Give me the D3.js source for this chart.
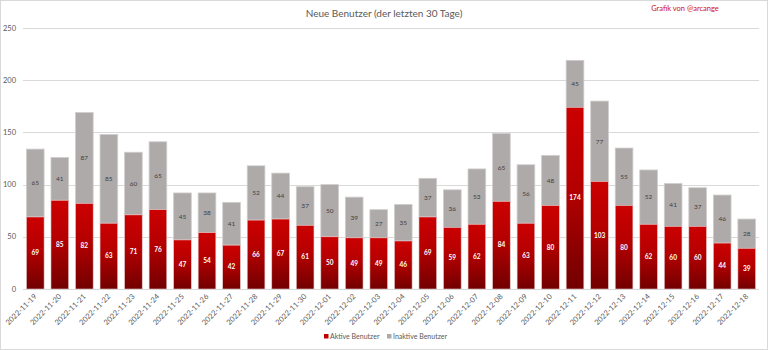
<!DOCTYPE html>
<html><head><meta charset="utf-8">
<script src="https://cdn.jsdelivr.net/npm/d3@7"></script>
<style>html,body{margin:0;padding:0;background:#fff}svg{display:block}</style>
</head><body>
<script>
const dates = ["2022-11-19","2022-11-20","2022-11-21","2022-11-22","2022-11-23","2022-11-24","2022-11-25","2022-11-26","2022-11-27","2022-11-28","2022-11-29","2022-11-30","2022-12-01","2022-12-02","2022-12-03","2022-12-04","2022-12-05","2022-12-06","2022-12-07","2022-12-08","2022-12-09","2022-12-10","2022-12-11","2022-12-12","2022-12-13","2022-12-14","2022-12-15","2022-12-16","2022-12-17","2022-12-18"];
const aktive = [69,85,82,63,71,76,47,54,42,66,67,61,50,49,49,46,69,59,62,84,63,80,174,103,80,62,60,60,44,39];
const inaktive = [65,41,87,85,60,65,45,38,41,52,44,37,50,39,27,35,37,36,53,65,56,48,45,77,55,52,41,37,46,28];
const yTicks = [0,50,100,150,200,250];
const seriesNames = ["Aktive Benutzer","Inaktive Benutzer"];
const title = "Neue Benutzer (der letzten 30 Tage)";
const credit = "Grafik von @arcange";

const W = 768, H = 350;
const font = "Lato, 'Open Sans', 'Liberation Sans', sans-serif";
const svg = d3.select("body").append("svg").attr("width", W).attr("height", H);

const defs = svg.append("defs");
const grad = defs.append("linearGradient").attr("id","redGrad").attr("x1",0).attr("y1",0).attr("x2",0).attr("y2",1);
grad.append("stop").attr("offset","0%").attr("stop-color","#cc0000");
grad.append("stop").attr("offset","45%").attr("stop-color","#b40000");
grad.append("stop").attr("offset","100%").attr("stop-color","#720000");

svg.append("rect").attr("x",0.5).attr("y",0.5).attr("width",W-1).attr("height",H-1)
  .attr("fill","#fff").attr("stroke","#d9d9d9");

const x = d3.scaleBand().domain(dates).range([23, 759]).paddingInner(0.28).paddingOuter(0.14);
const y = d3.scaleLinear().domain([0, 250]).range([289, 28]);

// grid
svg.append("g").selectAll("line").data(yTicks).join("line")
  .attr("x1", 23).attr("x2", 759)
  .attr("y1", d => Math.round(y(d)) + 0.5).attr("y2", d => Math.round(y(d)) + 0.5)
  .attr("stroke", "#d9d9d9").attr("stroke-width", 1);

// y labels
svg.append("g").selectAll("text").data(yTicks).join("text")
  .attr("x", 16).attr("y", d => y(d)).attr("dy","0.35em")
  .attr("text-anchor","end").attr("font-family",font).attr("font-size","7.5px").attr("fill","#595959")
  .text(d => d);

const data = dates.map((d,i) => ({d, a: aktive[i], n: inaktive[i]}));

// inactive bars
svg.append("g").selectAll("rect").data(data).join("rect")
  .attr("x", d => x(d.d)).attr("width", x.bandwidth())
  .attr("y", d => y(d.a + d.n)).attr("height", d => y(d.a) - y(d.a + d.n))
  .attr("fill", "#aeaaaa").attr("stroke","#d0cdcd").attr("stroke-width",0.8);

// active bars
svg.append("g").selectAll("rect").data(data).join("rect")
  .attr("x", d => x(d.d)).attr("width", x.bandwidth())
  .attr("y", d => y(d.a)).attr("height", d => y(0) - y(d.a))
  .attr("fill", "url(#redGrad)").attr("stroke","#e3c9c9").attr("stroke-width",0.6);

// labels
svg.append("g").selectAll("text").data(data).join("text")
  .attr("x", d => x(d.d) + x.bandwidth()/2).attr("y", d => (y(d.a) + y(0))/2).attr("dy","0.35em")
  .attr("text-anchor","middle").attr("font-family",font).attr("font-size","6.5px").attr("font-weight","bold").attr("fill","#fff")
  .text(d => d.a);
svg.append("g").selectAll("text").data(data).join("text")
  .attr("x", d => x(d.d) + x.bandwidth()/2).attr("y", d => (y(d.a + d.n) + y(d.a))/2).attr("dy","0.35em")
  .attr("text-anchor","middle").attr("font-family",font).attr("font-size","6.5px").attr("fill","#404040")
  .text(d => d.n);

// x labels
svg.append("g").selectAll("text").data(dates).join("text")
  .attr("transform", d => `translate(${x(d) + x.bandwidth()/2 + 2},297) rotate(-45)`)
  .attr("text-anchor","end").attr("font-family",font).attr("font-size","7.5px").attr("fill","#595959")
  .text(d => d);

// title
svg.append("text").attr("x", 384).attr("y", 17).attr("text-anchor","middle")
  .attr("font-family",font).attr("font-size","10px").attr("fill","#595959").text(title);
svg.append("text").attr("x", 685).attr("y", 11).attr("text-anchor","middle")
  .attr("font-family",font).attr("font-size","7.5px").attr("fill","#d01010").text(credit);

// legend
const legendItems = [{name: seriesNames[0], color:"#c00000", x:324},{name: seriesNames[1], color:"#aeaaaa", x:387}];
const lg = svg.append("g");
lg.selectAll("rect").data(legendItems).join("rect")
  .attr("x", d => d.x).attr("y", 334).attr("width",4.5).attr("height",4.5).attr("fill", d => d.color);
lg.selectAll("text").data(legendItems).join("text")
  .attr("x", d => d.x + 6).attr("y", 336.5).attr("dy","0.35em")
  .attr("font-family",font).attr("font-size","7px").attr("fill","#595959").text(d => d.name);
</script>
</body></html>
